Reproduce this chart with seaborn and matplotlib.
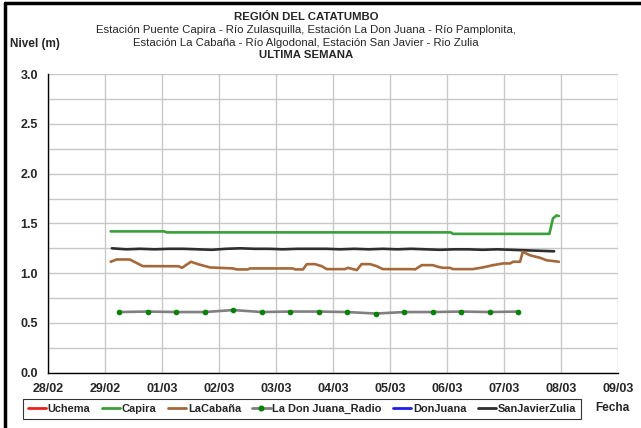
import pandas as pd
import matplotlib.pyplot as plt
import matplotlib.dates as mdates
from matplotlib.lines import Line2D
from matplotlib.ticker import MultipleLocator
import seaborn as sns

# Capira
capira_t = ['2024-02-29 02:30', '2024-03-01 01:00', '2024-03-01 02:00', '2024-03-06 01:30',
            '2024-03-06 02:30', '2024-03-07 19:00', '2024-03-07 20:30', '2024-03-07 22:00',
            '2024-03-07 23:00']
capira_v = [1.42, 1.42, 1.41, 1.41, 1.395, 1.395, 1.55, 1.58, 1.575]

# LaCabaña
cabana_t = ['2024-02-29 02:30', '2024-02-29 05:00', '2024-02-29 10:30', '2024-02-29 16:00',
            '2024-03-01 07:00', '2024-03-01 08:30', '2024-03-01 12:15', '2024-03-01 15:20',
            '2024-03-01 20:15', '2024-03-02 06:00', '2024-03-02 07:30', '2024-03-02 12:15',
            '2024-03-02 13:00', '2024-03-03 07:10', '2024-03-03 08:00', '2024-03-03 11:20',
            '2024-03-03 13:00', '2024-03-03 16:25', '2024-03-03 19:15', '2024-03-03 21:20',
            '2024-03-04 05:00', '2024-03-04 06:20', '2024-03-04 10:00', '2024-03-04 12:00',
            '2024-03-04 15:35', '2024-03-04 18:20', '2024-03-04 21:00', '2024-03-05 09:40',
            '2024-03-05 10:30', '2024-03-05 13:20', '2024-03-05 18:00', '2024-03-05 20:10',
            '2024-03-05 22:15', '2024-03-06 01:10', '2024-03-06 02:30', '2024-03-06 10:50',
            '2024-03-06 15:00', '2024-03-06 19:20', '2024-03-06 23:30', '2024-03-07 02:30',
            '2024-03-07 03:45', '2024-03-07 06:40', '2024-03-07 07:50', '2024-03-07 10:50',
            '2024-03-07 15:05', '2024-03-07 17:50', '2024-03-07 23:00']
cabana_v = [1.115, 1.138, 1.138, 1.071, 1.07, 1.054, 1.115, 1.09, 1.058, 1.048, 1.038, 1.038,
            1.048, 1.048, 1.038, 1.038, 1.091, 1.091, 1.071, 1.041, 1.041, 1.054, 1.031, 1.091,
            1.091, 1.071, 1.041, 1.041, 1.038, 1.081, 1.081, 1.064, 1.054, 1.054, 1.041, 1.041,
            1.058, 1.081, 1.098, 1.098, 1.115, 1.115, 1.215, 1.18, 1.155, 1.13, 1.115]

# La Don Juana_Radio
radio_t = ['2024-02-29 06:00', '2024-02-29 18:00', '2024-03-01 06:00', '2024-03-01 18:00',
           '2024-03-02 06:00', '2024-03-02 18:00', '2024-03-03 06:00', '2024-03-03 18:00',
           '2024-03-04 06:00', '2024-03-04 18:00', '2024-03-05 06:00', '2024-03-05 18:00',
           '2024-03-06 06:00', '2024-03-06 18:00', '2024-03-07 06:00']
radio_v = [0.61, 0.615, 0.61, 0.61, 0.63, 0.61, 0.615, 0.615, 0.61, 0.595, 0.61, 0.61,
           0.615, 0.61, 0.615]

# SanJavierZulia
sanjavier_t = ['2024-02-29 03:00', '2024-02-29 09:00', '2024-02-29 15:00', '2024-02-29 21:00',
               '2024-03-01 03:00', '2024-03-01 09:00', '2024-03-01 15:00', '2024-03-01 21:00',
               '2024-03-02 03:00', '2024-03-02 09:00', '2024-03-02 15:00', '2024-03-02 21:00',
               '2024-03-03 03:00', '2024-03-03 09:00', '2024-03-03 15:00', '2024-03-03 21:00',
               '2024-03-04 03:00', '2024-03-04 09:00', '2024-03-04 15:00', '2024-03-04 21:00',
               '2024-03-05 03:00', '2024-03-05 09:00', '2024-03-05 15:00', '2024-03-05 21:00',
               '2024-03-06 03:00', '2024-03-06 09:00', '2024-03-06 15:00', '2024-03-06 21:00',
               '2024-03-07 03:00', '2024-03-07 09:00', '2024-03-07 15:00', '2024-03-07 21:00']
sanjavier_v = [1.25, 1.24, 1.245, 1.24, 1.245, 1.245, 1.24, 1.235, 1.245, 1.25, 1.245, 1.245,
               1.24, 1.245, 1.245, 1.245, 1.24, 1.245, 1.24, 1.245, 1.24, 1.245, 1.24, 1.235,
               1.24, 1.24, 1.235, 1.24, 1.235, 1.23, 1.225, 1.22]

legend_labels = ['Uchema', 'Capira', 'LaCabaña', 'La Don Juana_Radio', 'DonJuana', 'SanJavierZulia']
colors = ['#e8231e', '#3a9e3a', '#a5683a', '#808080', '#1e1ee8', '#2e2e2e']

sns.set_style('white')
plt.rcParams['font.family'] = ['Liberation Sans', 'DejaVu Sans']

fig = plt.figure(figsize=(6.41, 4.28), dpi=100)
ax = fig.add_axes([0.0744, 0.129, 0.8902, 0.698])

capira = pd.DataFrame({'t': pd.to_datetime(capira_t), 'v': capira_v})
cabana = pd.DataFrame({'t': pd.to_datetime(cabana_t), 'v': cabana_v})
radio = pd.DataFrame({'t': pd.to_datetime(radio_t), 'v': radio_v})
sanjavier = pd.DataFrame({'t': pd.to_datetime(sanjavier_t), 'v': sanjavier_v})

sns.lineplot(data=sanjavier, x='t', y='v', ax=ax, color=colors[5], lw=1.9)
sns.lineplot(data=cabana, x='t', y='v', ax=ax, color=colors[2], lw=1.9)
sns.lineplot(data=capira, x='t', y='v', ax=ax, color=colors[1], lw=1.9)
sns.lineplot(data=radio, x='t', y='v', ax=ax, color=colors[3], lw=1.9,
             marker='o', markersize=3.3, markerfacecolor='#008000', markeredgecolor='#008000')

ax.set_xlim(pd.Timestamp('2024-02-28'), pd.Timestamp('2024-03-09'))
ax.set_ylim(0, 3)
ax.xaxis.set_major_locator(mdates.DayLocator())
ax.xaxis.set_major_formatter(mdates.DateFormatter('%d/%m'))
ax.yaxis.set_major_locator(MultipleLocator(0.5))
ax.yaxis.set_minor_locator(MultipleLocator(0.25))
ax.yaxis.set_major_formatter(plt.FormatStrFormatter('%.1f'))
ax.grid(True, which='both', color='#c8c8c8', lw=1)
ax.set_axisbelow(True)
ax.tick_params(axis='both', which='major', direction='out', length=4, width=1, color='black',
               labelsize=9, pad=3)
ax.tick_params(axis='y', which='minor', length=0)
for lab in ax.get_xticklabels() + ax.get_yticklabels():
    lab.set_fontweight('bold')
ax.set_xlabel('')
ax.set_ylabel('')
for s in ['top', 'right']:
    ax.spines[s].set_visible(False)
for s in ['left', 'bottom']:
    ax.spines[s].set_color('black')
    ax.spines[s].set_linewidth(1)

handles = []
for i, lab in enumerate(legend_labels):
    if lab == 'La Don Juana_Radio':
        handles.append(Line2D([], [], color=colors[i], lw=2, marker='o', markersize=3.3,
                              markerfacecolor='#008000', markeredgecolor='#008000'))
    else:
        handles.append(Line2D([], [], color=colors[i], lw=2))
leg = fig.legend(handles, legend_labels, loc='center', bbox_to_anchor=(0.471, 0.044), ncol=6,
                 frameon=True, fancybox=False, edgecolor='black', handlelength=1.7,
                 handletextpad=0.15, columnspacing=1.0, borderpad=0.45,
                 prop={'size': 7.9, 'weight': 'bold'})
leg.get_frame().set_linewidth(0.8)

fig.text(0.955, 0.046, 'Fecha', ha='center', va='center', fontsize=8.5, fontweight='bold')
fig.text(0.016, 0.897, 'Nivel (m)', ha='left', va='center', fontsize=8.5, fontweight='bold')

cx = 0.477
fig.text(cx, 0.960, 'REGIÓN DEL CATATUMBO', ha='center', va='center', fontsize=8.2, fontweight='bold')
fig.text(cx, 0.930, 'Estación Puente Capira - Río Zulasquilla, Estación La Don Juana - Río Pamplonita,',
         ha='center', va='center', fontsize=8.2)
fig.text(cx, 0.900, 'Estación La Cabaña - Río Algodonal, Estación San Javier - Rio Zulia',
         ha='center', va='center', fontsize=8.2)
fig.text(cx, 0.872, 'ULTIMA SEMANA', ha='center', va='center', fontsize=8.2, fontweight='bold')

# marco negro del grafico
fig.add_artist(Line2D([0.008, 0.008], [0.0, 0.993], color='black', lw=2.5, transform=fig.transFigure))
fig.add_artist(Line2D([0.008, 1.0], [0.993, 0.993], color='black', lw=2.5, transform=fig.transFigure))

fig.savefig('out.png', dpi=100)
